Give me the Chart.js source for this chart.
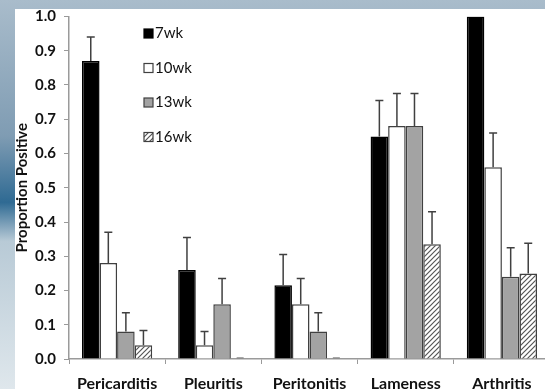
<!DOCTYPE html>
<html>
<head>
<meta charset="utf-8">
<script src="https://cdn.jsdelivr.net/npm/chart.js@4.4.1/dist/chart.umd.min.js"></script>
<style>
  html, body { margin: 0; padding: 0; }
  body {
    width: 545px; height: 389px; overflow: hidden; position: relative;
    background: linear-gradient(180deg, #a9bccb 0%, #7f9cb3 35%, #2f6a93 52%, #b8cad6 62%, #dfe7ec 100%);
  }
  #panel {
    position: absolute; left: 15px; top: 9px; width: 535px; height: 395px;
    background: #fff;
  }
  #wrap {
    position: absolute; left: 15px; top: 1px; width: 535px; height: 403px;
  }
</style>
</head>
<body>
<div id="panel"></div>
<div id="wrap"><canvas id="chart"></canvas></div>
<script>
const categories = ['Pericarditis', 'Pleuritis', 'Peritonitis', 'Lameness', 'Arthritis'];
const seriesNames = ['7wk', '10wk', '13wk', '16wk'];
const wk7 = [0.87, 0.26, 0.215, 0.65, 1.0];
const wk10 = [0.28, 0.04, 0.16, 0.68, 0.56];
const wk13 = [0.08, 0.16, 0.08, 0.68, 0.24];
const wk16 = [0.04, 0, 0, 0.335, 0.25];
// upper error bar lengths
const err7 = [0.07, 0.095, 0.09, 0.105, 0];
const err10 = [0.09, 0.04, 0.075, 0.095, 0.10];
const err13 = [0.055, 0.075, 0.055, 0.095, 0.085];
const err16 = [0.043, 0, 0, 0.095, 0.088];
const yTicks = [0, 0.1, 0.2, 0.3, 0.4, 0.5, 0.6, 0.7, 0.8, 0.9, 1.0];

function hatch() {
    const c = document.createElement('canvas');
    c.width = 5; c.height = 5;
    const g = c.getContext('2d');
    g.fillStyle = '#fff';
    g.fillRect(0, 0, 5, 5);
    g.strokeStyle = '#555';
    g.lineWidth = 1.2;
    g.beginPath();
    g.moveTo(-1, 6); g.lineTo(6, -1);
    g.moveTo(-1, 1); g.lineTo(1, -1);
    g.moveTo(4, 6); g.lineTo(6, 4);
    g.stroke();
    return g.createPattern(c, 'repeat');
}

const fills = ['#000', '#fff', '#a3a3a3', hatch()];
const edges = ['#000', '#404040', '#404040', '#404040'];
const values = [wk7, wk10, wk13, wk16];
const errors = [err7, err10, err13, err16];

const errorBars = {
    id: 'errorBars',
    afterDatasetsDraw(chart) {
        const ctx = chart.ctx;
        const y = chart.scales.y;
        ctx.save();
        ctx.lineWidth = 1.5;
        chart.data.datasets.forEach((ds, i) => {
            chart.getDatasetMeta(i).data.forEach((bar, j) => {
                const y0 = y.getPixelForValue(ds.data[j]);
                if (ds.data[j] === 0) {
                    // zero bars show as a short flat stroke
                    ctx.strokeStyle = '#8a8a8a';
                    ctx.beginPath();
                    ctx.moveTo(bar.x - 3, y0 - 1);
                    ctx.lineTo(bar.x + 4, y0 - 1);
                    ctx.stroke();
                }
                const e = errors[i][j];
                if (!e) return;
                const y1 = y.getPixelForValue(ds.data[j] + e);
                ctx.strokeStyle = '#404040';
                ctx.beginPath();
                ctx.moveTo(bar.x, y0);
                ctx.lineTo(bar.x, y1);
                ctx.moveTo(bar.x - 4, y1);
                ctx.lineTo(bar.x + 4, y1);
                ctx.stroke();
            });
        });
        ctx.restore();
    }
};

const sideLegend = {
    id: 'sideLegend',
    afterDraw(chart) {
        const ctx = chart.ctx;
        const a = chart.chartArea;
        ctx.save();
        ctx.font = '15px Lato';
        ctx.textBaseline = 'middle';
        seriesNames.forEach((name, i) => {
            const x = a.left + 75;
            const yy = a.top + 17 + i * 34.5;
            ctx.fillStyle = fills[i];
            ctx.fillRect(x, yy - 4.5, 9, 9);
            ctx.strokeStyle = edges[i];
            ctx.lineWidth = 1.2;
            ctx.strokeRect(x, yy - 4.5, 9, 9);
            ctx.fillStyle = '#111';
            ctx.fillText(name, x + 11, yy);
        });
        ctx.restore();
    }
};

new Chart(document.getElementById('chart'), {
    type: 'bar',
    data: {
        labels: categories,
        datasets: seriesNames.map((name, i) => ({
            label: name,
            data: values[i],
            backgroundColor: fills[i],
            borderColor: edges[i],
            borderWidth: 1.5,
            borderSkipped: 'bottom',
            categoryPercentage: 0.73,
            barPercentage: 1.0
        }))
    },
    options: {
        responsive: true,
        maintainAspectRatio: false,
        animation: false,
        layout: { padding: 0 },
        plugins: {
            legend: { display: false },
            tooltip: { enabled: false }
        },
        scales: {
            x: {
                offset: true,
                grid: { offset: true, drawOnChartArea: false, color: '#9a9a9a', tickLength: 5 },
                border: { color: '#9a9a9a', width: 1.5 },
                ticks: { color: '#111', font: { family: 'Lato', size: 16, weight: 'bold' }, padding: 10, maxRotation: 0 },
                afterFit(scale) { scale.height = 45; }
            },
            y: {
                min: 0,
                max: 1.0,
                afterBuildTicks(scale) { scale.ticks = yTicks.map(v => ({ value: v })); },
                grid: { drawOnChartArea: false, color: '#9a9a9a', tickLength: 5 },
                border: { color: '#9a9a9a', width: 1.5 },
                ticks: {
                    color: '#111',
                    font: { family: 'Lato', size: 15, weight: 'bold', lineHeight: 1.0 },
                    padding: 8,
                    callback: v => v.toFixed(1)
                },
                title: {
                    display: true,
                    text: 'Proportion Positive',
                    color: '#111',
                    font: { family: 'Lato', size: 15, weight: 'bold', lineHeight: 1.0 },
                    padding: 0
                },
                afterFit(scale) { scale.width = 54; }
            }
        }
    },
    plugins: [errorBars, sideLegend]
});
</script>
</body>
</html>
